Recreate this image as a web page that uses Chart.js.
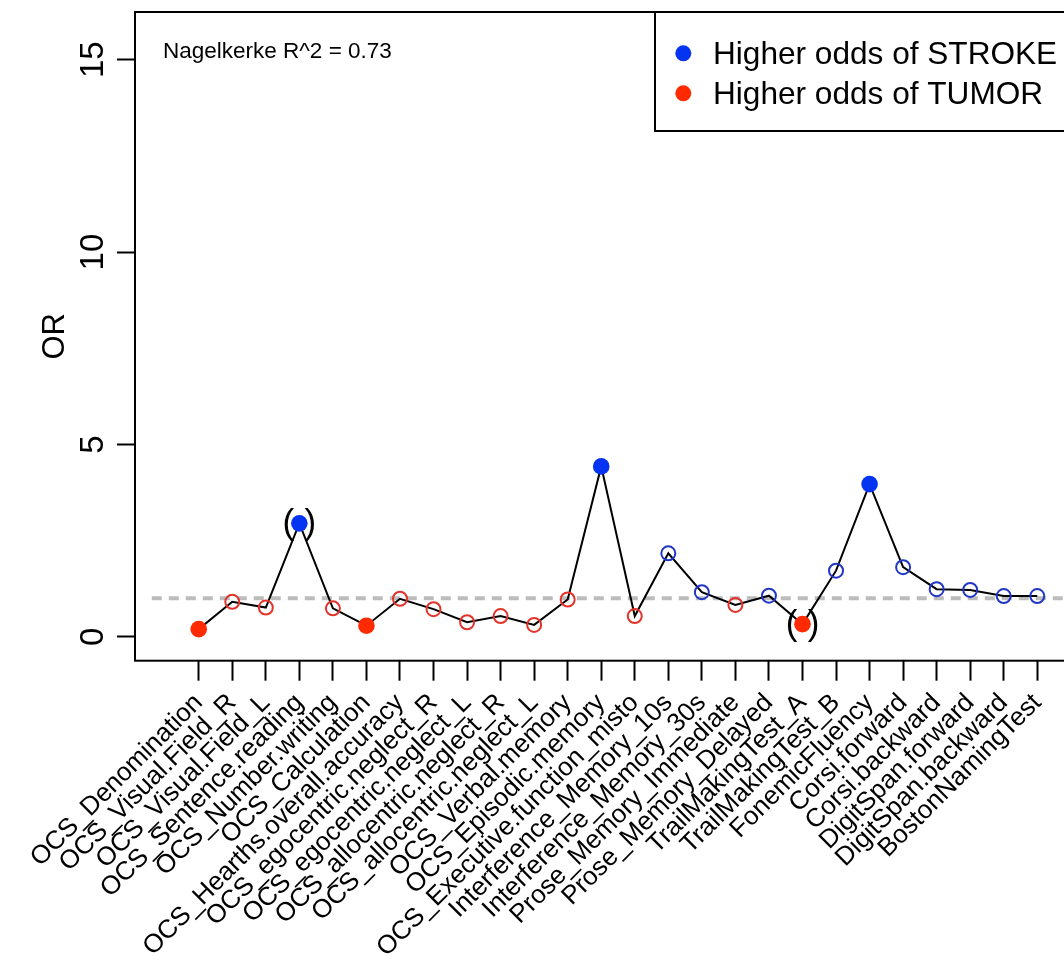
<!DOCTYPE html>
<html>
<head>
<meta charset="utf-8">
<script src="https://cdn.jsdelivr.net/npm/chart.js@4.4.1/dist/chart.umd.min.js"></script>
<style>
  html, body { margin: 0; padding: 0; background: #fff; }
  #wrap { width: 1064px; height: 962px; overflow: hidden; position: relative; }
  canvas { display: block; }
</style>
</head>
<body>
<div id="wrap"><canvas id="chart" width="1110" height="962"></canvas></div>
<script>
// Cognitive test predictors
const categories = [
  'OCS_Denomination', 'OCS_Visual.Field_R', 'OCS_Visual.Field_L', 'OCS_Sentence.reading',
  'OCS_Number.writing', 'OCS_Calculation', 'OCS_Hearths.overall.accuracy',
  'OCS_egocentric.neglect_R', 'OCS_egocentric.neglect_L', 'OCS_allocentric.neglect_R',
  'OCS_allocentric.neglect_L', 'OCS_Verbal.memory', 'OCS_Episodic.memory',
  'OCS_Executive.function_misto', 'Interference_Memory_10s', 'Interference_Memory_30s',
  'Prose_Memory_Immediate', 'Prose_Memory_Delayed', 'TrailMakingTest_A', 'TrailMakingTest_B',
  'FonemicFluency', 'Corsi.forward', 'Corsi.backward', 'DigitSpan.forward',
  'DigitSpan.backward', 'BostonNamingTest'
];

// Odds ratio of each predictor
const oddsRatios = [
  0.20, 0.91, 0.76, 2.95, 0.74, 0.29, 0.99, 0.72, 0.38, 0.54, 0.31, 0.97, 4.43,
  0.54, 2.17, 1.16, 0.83, 1.07, 0.33, 1.72, 3.97, 1.81, 1.24, 1.22, 1.06, 1.06
];

// Significant predictors (filled markers)
const significant = [
  true, false, false, true, false, true, false, false, false, false, false, false, true,
  false, false, false, false, false, true, false, true, false, false, false, false, false
];

// Predictors shown in brackets
const bracketed = [
  false, false, false, true, false, false, false, false, false, false, false, false, false,
  false, false, false, false, false, true, false, false, false, false, false, false, false
];

const yTicks = [0, 5, 10, 15];
const referenceOR = 1;
const fitNote = 'Nagelkerke R^2 = 0.73';
const legendLabels = ['Higher odds of STROKE', 'Higher odds of TUMOR'];

const FONT = '"Liberation Sans", Arial, Helvetica, sans-serif';
const BLUE = '#0533f2';
const RED = '#ff2a00';
const BLUE_LINE = '#1f36c6';
const RED_LINE = '#e3322a';

const isStroke = oddsRatios.map(v => v >= referenceOR);

const overlay = {
  id: 'overlay',
  afterDatasetsDraw(chart) {
    const ctx = chart.ctx;
    const area = chart.chartArea;
    ctx.save();

    // brackets around selected points
    const meta = chart.getDatasetMeta(0);
    ctx.fillStyle = '#000';
    ctx.font = '35px ' + FONT;
    ctx.textAlign = 'center';
    ctx.textBaseline = 'middle';
    bracketed.forEach((b, i) => {
      if (!b) return;
      const p = meta.data[i];
      ctx.fillText('(', p.x - 11, p.y + 1);
      ctx.fillText(')', p.x + 11, p.y + 1);
    });

    // fit statistic
    ctx.font = '22.5px ' + FONT;
    ctx.textAlign = 'left';
    ctx.textBaseline = 'alphabetic';
    ctx.fillText(fitNote, 163, 57.5);

    // legend box
    const lx = 655, ly = area.top, lb = 131;
    ctx.fillStyle = '#fff';
    ctx.fillRect(lx, ly, area.right - lx, lb - ly);
    ctx.strokeStyle = '#000';
    ctx.lineWidth = 2;
    ctx.strokeRect(lx, ly, area.right - lx, lb - ly);
    const colors = [BLUE, RED];
    ctx.font = '31.6px ' + FONT;
    legendLabels.forEach((t, i) => {
      const cy = 53.3 + i * 40;
      ctx.beginPath();
      ctx.arc(683.3, cy, 8, 0, Math.PI * 2);
      ctx.fillStyle = colors[i];
      ctx.fill();
      ctx.fillStyle = '#000';
      ctx.fillText(t, 713, cy + 10.5);
    });

    // plot frame
    ctx.strokeStyle = '#000';
    ctx.lineWidth = 2;
    ctx.strokeRect(area.left, area.top, area.right - area.left, area.bottom - area.top);
    ctx.restore();
  }
};

const points = categories.map((c, i) => ({ x: i + 1, y: oddsRatios[i] }));

new Chart(document.getElementById('chart'), {
  type: 'line',
  data: {
    datasets: [
      {
        label: 'OR',
        data: points,
        borderColor: '#000',
        borderWidth: 2,
        tension: 0,
        fill: false,
        pointRadius: significant.map(s => (s ? 8.3 : 7)),
        pointBackgroundColor: significant.map((s, i) => (s ? (isStroke[i] ? BLUE : RED) : 'rgba(0,0,0,0)')),
        pointBorderColor: significant.map((s, i) => (s ? (isStroke[i] ? BLUE : RED) : (isStroke[i] ? BLUE_LINE : RED_LINE))),
        pointBorderWidth: significant.map(s => (s ? 0 : 2)),
        order: 1
      },
      {
        label: 'reference',
        data: [{ x: -0.4, y: referenceOR }, { x: 27.9, y: referenceOR }],
        borderColor: '#bcbcbc',
        borderWidth: 4,
        borderDash: [10, 7],
        pointRadius: 0,
        fill: false,
        order: 2
      }
    ]
  },
  options: {
    responsive: false,
    animation: false,
    devicePixelRatio: 1,
    layout: { padding: { left: 0, top: 12, right: 8.5, bottom: 0 } },
    plugins: { legend: { display: false }, tooltip: { enabled: false } },
    scales: {
      x: {
        type: 'linear',
        min: -0.9,
        max: 27.9,
        afterFit(s) {
          s.height = 301.3;
          s.paddingLeft = 0;
          s.paddingRight = 0;
        },
        afterBuildTicks(s) { s.ticks = categories.map((_, i) => ({ value: i + 1 })); },
        grid: { drawOnChartArea: false, drawTicks: true, tickLength: 20, tickWidth: 2, tickColor: '#000' },
        border: { display: false },
        ticks: {
          autoSkip: false,
          minRotation: 45,
          maxRotation: 45,
          padding: 7,
          color: '#000',
          font: { family: FONT, size: 26 },
          callback: v => categories[Math.round(v) - 1] || ''
        }
      },
      y: {
        min: -0.62,
        max: 16.24,
        afterFit(s) {
          s.width = 135;
          s.paddingTop = 0;
          s.paddingBottom = 0;
        },
        afterBuildTicks(s) { s.ticks = yTicks.map(v => ({ value: v })); },
        grid: { drawOnChartArea: false, drawTicks: true, tickLength: 18, tickWidth: 2, tickColor: '#000' },
        border: { display: false },
        ticks: {
          minRotation: 90,
          maxRotation: 90,
          crossAlign: 'center',
          padding: 5,
          color: '#000',
          font: { family: FONT, size: 33 }
        },
        title: {
          display: true,
          text: 'OR',
          color: '#000',
          font: { family: FONT, size: 31 },
          padding: { top: 37, bottom: 0 }
        }
      }
    }
  },
  plugins: [overlay]
});
</script>
</body>
</html>
